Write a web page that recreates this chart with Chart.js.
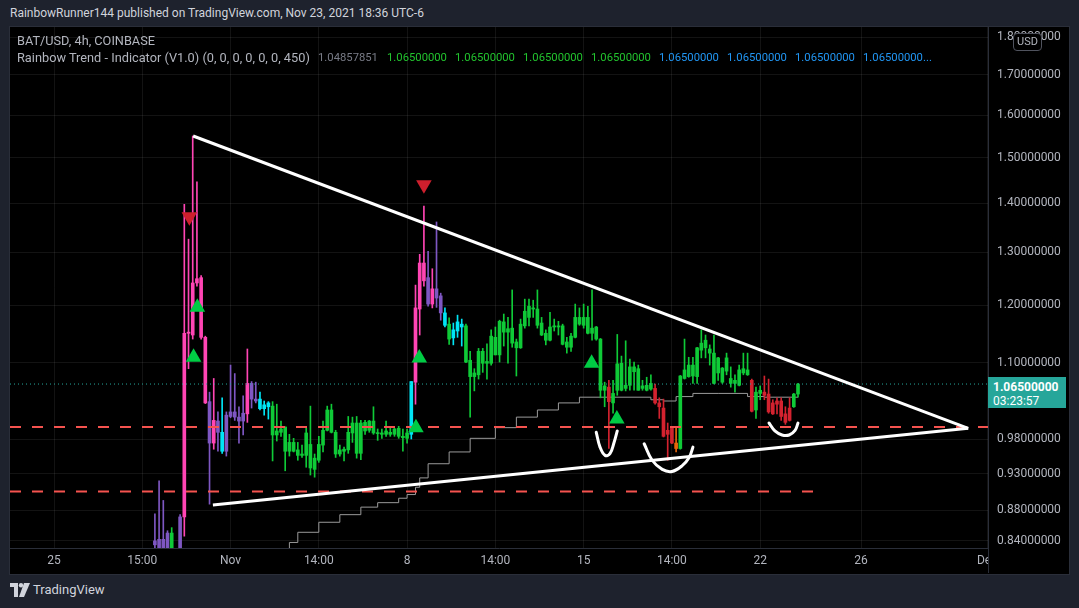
<!DOCTYPE html>
<html>
<head>
<meta charset="utf-8">
<script src="https://cdn.jsdelivr.net/npm/chart.js@4"></script>
<style>
    body { margin: 0; width: 1079px; height: 608px; background: #1e222d; overflow: hidden; position: relative; font-family: 'Roboto', sans-serif; }
    #frame { position: absolute; left: 9px; top: 26px; width: 1059px; height: 547px; border: 1px solid #2a2e39; background: #000; }
    #chart { position: absolute; left: 10px; top: 27px; }
    .txt { position: absolute; white-space: nowrap; line-height: 1; z-index: 2; }
    #header { left: 10px; top: 7px; color: #d1d4dc; font-size: 13px; }
    #leg1 { left: 17px; top: 35px; color: #b2b5be; font-size: 12px; }
    #leg2 { left: 17px; top: 52px; color: #b2b5be; font-size: 12px; }
    .val { top: 52px; font-size: 11.3px; }
    #usd { position: absolute; left: 1013px; top: 33px; width: 27px; height: 16px; border: 1px solid #50535e; border-radius: 4px; background: #000; color: #b2b5be; font-size: 11px; line-height: 16px; text-align: center; z-index: 2; }
    #lastbox { position: absolute; left: 988px; top: 377px; width: 78px; height: 31px; background: #26a69a; color: #fff; z-index: 2; font-size: 12px; }
    #lastbox div { position: absolute; left: 5px; }
    #logo { position: absolute; left: 10px; top: 583px; z-index: 2; }
    #logotxt { left: 33px; top: 583px; color: #d1d4dc; font-size: 13px; font-family: 'Liberation Sans Narrow', 'Roboto', sans-serif; }
</style>
</head>
<body>
<div id="frame"></div>
<canvas id="chart" width="1058" height="546"></canvas>
<div class="txt" id="header">RainbowRunner144 published on TradingView.com, Nov 23, 2021 18:36 UTC-6</div>
<div class="txt" id="leg1">BAT/USD, 4h, COINBASE</div>
<div class="txt" id="leg2">Rainbow Trend - Indicator (V1.0) (0, 0, 0, 0, 0, 0, 450)</div>
<div id="values"></div>
<div id="usd">USD</div>
<div id="lastbox"><div style="top:3px;font-weight:bold">1.06500000</div><div style="top:17px">03:23:57</div></div>
<svg id="logo" width="20" height="14" viewBox="0 0 20 14">
    <path d="M0 0h8v14h-4v-10h-4z" fill="#d1d4dc"/>
    <circle cx="11" cy="2.2" r="2.2" fill="#d1d4dc"/>
    <path d="M14 0h6l-6 14h-5z" fill="#d1d4dc"/>
</svg>
<div class="txt" id="logotxt">TradingView</div>
<script>
// velas de 4h, indice contado desde el 25 oct 00:00
const firstIndex = 24;

const opens = [
    0.840, 0.842, 0.842, 0.850, 0.829, 0.826, 0.829, 0.871, 1.150, 1.147,
    1.241, 1.251, 1.143, 1.037, 0.974, 1.007, 0.990, 0.962, 1.014, 1.021,
    1.013, 1.007, 1.018, 1.066, 1.041, 1.041, 1.026, 1.035, 1.030, 0.986,
    0.990, 0.998, 0.962, 0.975, 0.964, 0.956, 0.956, 0.972, 0.936, 0.949,
    0.971, 0.993, 1.024, 0.990, 0.958, 0.962, 0.964, 0.989, 1.004, 0.959,
    1.005, 0.993, 1.007, 0.988, 0.987, 0.987, 0.990, 0.987, 0.996, 0.984,
    0.981, 0.987, 1.068, 1.193, 1.279, 1.251, 1.202, 1.230, 1.217, 1.186,
    1.166, 1.142, 1.154, 1.166, 1.163, 1.104, 1.077, 1.080, 1.119, 1.099,
    1.099, 1.143, 1.113, 1.170, 1.152, 1.159, 1.135, 1.125, 1.163, 1.178,
    1.195, 1.193, 1.168, 1.150, 1.138, 1.161, 1.163, 1.163, 1.135, 1.126,
    1.143, 1.178, 1.164, 1.178, 1.150, 1.161, 1.140, 1.055, 1.060, 1.035,
    1.055, 1.099, 1.058, 1.063, 1.093, 1.090, 1.058, 1.055, 1.057, 1.058,
    1.035, 1.027, 0.993, 0.996, 0.974, 0.966, 1.074, 1.077, 1.096, 1.077,
    1.121, 1.125, 1.123, 1.116, 1.083, 1.091, 1.086, 1.074, 1.066, 1.063,
    1.090, 1.080, 1.071, 1.024, 1.050, 1.052, 1.049, 1.035, 1.038, 1.038,
    1.018, 1.027, 1.029, 1.049
];
const highs = [
    0.875, 0.920, 0.893, 0.853, 0.857, 0.829, 0.874, 1.398, 1.326, 1.550,
    1.446, 1.255, 1.145, 1.052, 1.074, 1.021, 1.043, 1.021, 1.096, 1.082,
    1.029, 1.046, 1.123, 1.069, 1.068, 1.052, 1.038, 1.037, 1.037, 1.033,
    1.007, 0.998, 0.987, 0.981, 0.975, 0.971, 0.996, 1.030, 0.958, 0.984,
    1.007, 1.030, 1.033, 0.993, 0.971, 0.968, 1.014, 1.013, 1.014, 1.008,
    1.008, 1.008, 1.029, 0.995, 0.995, 1.007, 0.996, 0.996, 0.999, 0.995,
    0.995, 1.069, 1.237, 1.296, 1.394, 1.302, 1.268, 1.361, 1.222, 1.195,
    1.177, 1.168, 1.182, 1.175, 1.166, 1.119, 1.090, 1.124, 1.124, 1.132,
    1.156, 1.161, 1.173, 1.184, 1.178, 1.228, 1.140, 1.175, 1.211, 1.211,
    1.209, 1.228, 1.178, 1.156, 1.187, 1.175, 1.171, 1.166, 1.143, 1.150,
    1.202, 1.195, 1.202, 1.198, 1.228, 1.162, 1.141, 1.068, 1.071, 1.071,
    1.148, 1.111, 1.137, 1.106, 1.101, 1.096, 1.071, 1.076, 1.080, 1.065,
    1.043, 1.041, 1.004, 0.999, 0.998, 1.079, 1.140, 1.109, 1.109, 1.126,
    1.156, 1.147, 1.130, 1.147, 1.109, 1.092, 1.116, 1.093, 1.080, 1.096,
    1.116, 1.116, 1.073, 1.060, 1.062, 1.078, 1.073, 1.040, 1.043, 1.043,
    1.029, 1.043, 1.050, 1.066
];
const lows = [
    0.831, 0.826, 0.826, 0.826, 0.826, 0.820, 0.826, 0.846, 1.090, 1.140,
    1.235, 1.140, 1.034, 0.888, 0.965, 0.962, 0.959, 0.955, 1.012, 1.008,
    0.974, 0.986, 1.005, 1.027, 1.035, 1.024, 1.016, 1.010, 0.948, 0.977,
    0.984, 0.934, 0.955, 0.961, 0.949, 0.953, 0.939, 0.928, 0.925, 0.946,
    0.961, 0.992, 0.989, 0.953, 0.955, 0.948, 0.959, 0.975, 0.952, 0.950,
    0.987, 0.990, 0.987, 0.978, 0.981, 0.984, 0.984, 0.984, 0.981, 0.962,
    0.974, 0.980, 1.033, 1.147, 1.235, 1.198, 1.195, 1.196, 1.173, 1.161,
    1.131, 1.130, 1.143, 1.128, 1.100, 1.013, 1.054, 1.073, 1.084, 1.073,
    1.096, 1.113, 1.101, 1.128, 1.099, 1.126, 1.078, 1.124, 1.159, 1.163,
    1.178, 1.159, 1.146, 1.130, 1.137, 1.154, 1.147, 1.130, 1.116, 1.119,
    1.142, 1.164, 1.159, 1.149, 1.138, 1.138, 1.043, 1.029, 0.966, 1.019,
    1.047, 1.054, 1.054, 1.055, 1.055, 1.055, 1.055, 1.054, 1.055, 1.033,
    1.011, 0.983, 0.949, 0.973, 0.961, 0.965, 1.073, 1.076, 1.066, 1.066,
    1.108, 1.108, 1.096, 1.065, 1.071, 1.066, 1.080, 1.060, 1.052, 1.062,
    1.080, 1.079, 1.021, 1.011, 1.040, 1.040, 1.019, 1.017, 1.018, 1.008,
    1.002, 1.007, 1.028, 1.044
];
const closes = [
    0.835, 0.831, 0.831, 0.829, 0.850, 0.824, 0.871, 1.150, 1.152, 1.241,
    1.249, 1.143, 1.035, 0.974, 1.008, 0.990, 0.962, 1.016, 1.021, 1.013,
    1.007, 1.019, 1.066, 1.041, 1.038, 1.026, 1.032, 1.029, 0.986, 0.992,
    0.995, 0.962, 0.975, 0.962, 0.956, 0.958, 0.989, 0.938, 0.952, 0.972,
    0.993, 1.024, 0.990, 0.958, 0.964, 0.965, 0.990, 1.004, 0.959, 1.004,
    0.992, 1.007, 0.989, 0.989, 0.989, 0.992, 0.987, 0.995, 0.984, 0.982,
    0.989, 1.069, 1.195, 1.279, 1.245, 1.202, 1.230, 1.213, 1.186, 1.164,
    1.140, 1.156, 1.170, 1.161, 1.101, 1.077, 1.083, 1.119, 1.099, 1.102,
    1.145, 1.113, 1.171, 1.152, 1.158, 1.133, 1.125, 1.166, 1.189, 1.198,
    1.193, 1.164, 1.147, 1.138, 1.161, 1.163, 1.161, 1.131, 1.126, 1.145,
    1.178, 1.166, 1.178, 1.150, 1.159, 1.140, 1.055, 1.062, 1.037, 1.050,
    1.098, 1.055, 1.063, 1.093, 1.085, 1.055, 1.062, 1.063, 1.066, 1.035,
    1.029, 0.984, 0.987, 0.974, 0.966, 1.078, 1.088, 1.096, 1.078, 1.125,
    1.133, 1.138, 1.116, 1.066, 1.108, 1.068, 1.108, 1.066, 1.071, 1.088,
    1.083, 1.088, 1.022, 1.052, 1.055, 1.047, 1.021, 1.018, 1.033, 1.014,
    1.005, 1.008, 1.049, 1.065
];
// color del indicador Rainbow por vela: P morado, K rosa, C cian, G verde, R rojo, O naranja
const colorCodes = ('PPPPGPP KKKKKK PKPCP PPPP K PP CCC ' +
    'GGGGGGGGGG GGGGGGGGGG GGGGGGGGGG GGG C KKK PKPP C G CCC ' +
    'GGGGGGGGGG GGGGGGGGGG GGGGGGGGGG GGGG R GGGGGGGGGG RRRRR O ' +
    'GGGGGGGGGG GGGGGGG R GG RRRRRRR GG').replace(/ /g, '');

const lastPrice = 1.065;
const xTickPos = [0, 21, 42, 63, 84, 105, 126, 147, 168, 192, 222];
const xTickLabels = ['25', '15:00', 'Nov', '14:00', '8', '14:00', '15', '14:00', '22', '26', 'Dec'];
const yTickVals = [0.84, 0.88, 0.93, 0.98, 1.1, 1.2, 1.3, 1.4, 1.5, 1.6, 1.7, 1.8];

// linea gris escalonada del indicador
const maIdx = [56, 58, 63, 68, 73, 77, 82, 84, 86, 87, 89, 94, 99, 105, 110, 115, 120, 125, 130, 142, 145, 148, 152, 158, 165, 169, 177];
const maVal = [0.829, 0.838, 0.851, 0.864, 0.874, 0.884, 0.890, 0.896, 0.901, 0.911, 0.924, 0.944, 0.961, 0.981, 0.997, 1.013, 1.024, 1.035, 1.044, 1.044, 1.040, 1.038, 1.045, 1.050, 1.050, 1.045, 1.044];

// triangulo dibujado a mano
const upperIdx = [33.1, 217.5];
const upperVal = [1.55, 0.996];
const lowerIdx = [37.8, 217.5];
const lowerVal = [0.887, 0.996];
const supportHigh = 0.998;
const supportLow = 0.905;
const supportLowEnd = 181.1;

// curvas en U
const u1Idx = [129.0, 129.9, 131.1, 132.3, 133.2, 134.0];
const u1Val = [0.990, 0.968, 0.956, 0.959, 0.974, 0.992];
const u2Idx = [140.4, 142.3, 144.7, 147.0, 149.4, 151.1, 152.0];
const u2Val = [0.973, 0.949, 0.936, 0.933, 0.941, 0.953, 0.968];
const u3Idx = [170.1, 171.5, 173.2, 174.9, 176.3, 177.0];
const u3Val = [1.004, 0.992, 0.986, 0.986, 0.993, 1.004];

// señales
const sellIdx = [32.2, 88.0];
const sellVal = [1.372, 1.440];
const buyIdx = [33.2, 34.1, 86.1, 86.9, 127.9, 133.9];
const buyVal = [1.109, 1.196, 0.997, 1.108, 1.099, 1.010];

const legendValues = ['1.04857851', '1.06500000', '1.06500000', '1.06500000', '1.06500000',
    '1.06500000', '1.06500000', '1.06500000', '1.06500000...'];

document.addEventListener("DOMContentLoaded", function() {
    const xMin = -10.47, xMax = 222.2;
    const palette = { P: '#7e57c2', K: '#ff45b4', C: '#00e5f5', G: '#0fca37', R: '#d3222f', O: '#e8650a' };
    const candleColors = colorCodes.split('').map(c => palette[c]);

    function pts(xs, ys) {
        return xs.map((x, k) => ({ x: x, y: ys[k] }));
    }
    function lineSet(data, color, width, order, extra) {
        return Object.assign({
            type: 'line', data: data, borderColor: color, borderWidth: width,
            pointRadius: 0, fill: false, order: order
        }, extra || {});
    }

    // leyenda de valores
    const valLefts = [318, 387, 455, 523, 591, 659, 727, 795, 863];
    const valColors = ['#787b86', '#22c32e', '#22c32e', '#22c32e', '#22c32e', '#2196f3', '#2196f3', '#2196f3', '#2196f3'];
    const valuesDiv = document.getElementById('values');
    legendValues.forEach((v, k) => {
        const s = document.createElement('div');
        s.className = 'txt val';
        s.style.left = valLefts[k] + 'px';
        s.style.color = valColors[k];
        s.textContent = v;
        valuesDiv.appendChild(s);
    });

    function fitText(el, width) {
        const w = el.getBoundingClientRect().width;
        const fs = parseFloat(getComputedStyle(el).fontSize);
        el.style.fontSize = (fs * width / w).toFixed(2) + 'px';
    }
    fitText(document.getElementById('header'), 414);
    fitText(document.getElementById('leg1'), 138);
    fitText(document.getElementById('leg2'), 293);
    const vals = valuesDiv.querySelectorAll('.val');
    fitText(vals[1], 60);
    vals.forEach(el => { el.style.fontSize = vals[1].style.fontSize; });

    const cornerPlugin = {
        id: 'corner',
        afterDraw(chart) {
            const c = chart.ctx, a = chart.chartArea;
            c.save();
            c.fillStyle = '#000';
            c.fillRect(a.right + 1, a.bottom + 1, chart.width - a.right, chart.height - a.bottom);
            c.strokeStyle = '#2a2e39';
            c.lineWidth = 1;
            c.beginPath();
            c.moveTo(a.right + 0.5, a.bottom);
            c.lineTo(a.right + 0.5, chart.height);
            c.stroke();
            c.restore();
        }
    };

    // sin margen extra para etiquetas: el area del grafico llega al borde
    function noPad(s) {
        s.paddingTop = 0; s.paddingBottom = 0; s.paddingLeft = 0; s.paddingRight = 0;
    }

    const tickFont = { family: 'Roboto', size: 12 };
    const gridColor = 'rgba(255,255,255,0.075)';

    new Chart(document.getElementById('chart').getContext('2d'), {
        data: {
            datasets: [
                lineSet(pts(maIdx, maVal), '#9a9a9a', 1, 10, { stepped: 'after' }),
                {
                    type: 'bar', order: 9, grouped: false, barThickness: 1,
                    data: opens.map((o, k) => ({ x: firstIndex + k, y: [lows[k], highs[k]] })),
                    backgroundColor: candleColors, borderWidth: 0
                },
                {
                    type: 'bar', order: 8, grouped: false, barThickness: 3, minBarLength: 1,
                    data: opens.map((o, k) => ({ x: firstIndex + k, y: [o, closes[k]] })),
                    backgroundColor: candleColors, borderWidth: 0
                },
                lineSet(pts([xMin, xMax], [lastPrice, lastPrice]), '#26a69a', 1, 7, { borderDash: [1, 3] }),
                lineSet(pts([xMin, xMax], [supportHigh, supportHigh]), '#f5534f', 2, 6, { borderDash: [11, 11] }),
                lineSet(pts([xMin, supportLowEnd], [supportLow, supportLow]), '#f5534f', 2, 6, { borderDash: [11, 11] }),
                lineSet(pts(upperIdx, upperVal), '#ffffff', 3, 5),
                lineSet(pts(lowerIdx, lowerVal), '#ffffff', 3, 5),
                lineSet(pts(u1Idx, u1Val), '#ffffff', 3, 4, { tension: 0.4, borderCapStyle: 'round' }),
                lineSet(pts(u2Idx, u2Val), '#ffffff', 3, 4, { tension: 0.4, borderCapStyle: 'round' }),
                lineSet(pts(u3Idx, u3Val), '#ffffff', 3, 4, { tension: 0.4, borderCapStyle: 'round' }),
                lineSet(pts(sellIdx, sellVal), '#cd1f2d', 0, 1, {
                    showLine: false, pointStyle: 'triangle', pointRadius: 9, pointRotation: 180,
                    pointBackgroundColor: '#cd1f2d', pointBorderWidth: 0
                }),
                lineSet(pts(buyIdx, buyVal), '#00cc44', 0, 1, {
                    showLine: false, pointStyle: 'triangle', pointRadius: 9,
                    pointBackgroundColor: '#00cc44', pointBorderWidth: 0
                })
            ]
        },
        options: {
            responsive: false,
            animation: false,
            devicePixelRatio: 1,
            layout: { padding: 0, autoPadding: false },
            plugins: { legend: { display: false }, tooltip: { enabled: false } },
            scales: {
                x: {
                    type: 'linear', min: xMin, max: xMax, offset: false,
                    afterBuildTicks: s => { s.ticks = xTickPos.map(v => ({ value: v })); },
                    afterFit: s => { s.height = 25; noPad(s); },
                    ticks: {
                        callback: (v, i) => xTickLabels[i], color: '#b2b5be', font: tickFont,
                        padding: 6, maxRotation: 0, autoSkip: false
                    },
                    grid: { color: gridColor, drawTicks: false, offset: false },
                    border: { color: '#2a2e39' }
                },
                y: {
                    type: 'logarithmic', position: 'right', min: 0.831, max: 1.828,
                    afterBuildTicks: s => { s.ticks = yTickVals.map(v => ({ value: v })); },
                    afterFit: s => { s.width = 80; noPad(s); },
                    ticks: {
                        callback: v => Number(v).toFixed(8), color: '#b2b5be', font: tickFont,
                        padding: 9, autoSkip: false
                    },
                    grid: { color: gridColor, drawTicks: false },
                    border: { color: '#2a2e39' }
                }
            }
        },
        plugins: [cornerPlugin]
    });
});
</script>
</body>
</html>
